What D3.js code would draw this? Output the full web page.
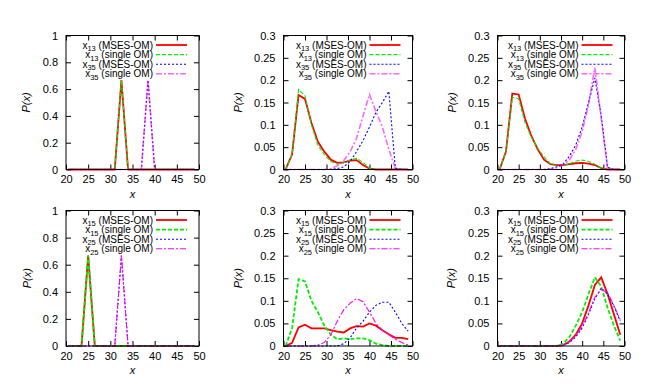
<!DOCTYPE html>
<html><head><meta charset="utf-8">
<script src="https://cdn.jsdelivr.net/npm/d3@7"></script>
<style>
body{margin:0;background:#fff}
svg{display:block}
text{font-family:"Liberation Sans",Arial,Helvetica,sans-serif;fill:#000}
</style>
</head><body>
<svg id="chart" width="647" height="389"></svg>
<script>
// ---------- data ----------
const xValues = [20.5, 22, 23.5, 25, 26.5, 28, 29.5, 31, 32.5, 34, 35.5, 37, 38.5, 40, 41.5, 43, 44.5, 46, 47.5, 49];
const xTicks = [20, 25, 30, 35, 40, 45, 50];
const xTickLabels = ["20", "25", "30", "35", "40", "45", "50"];
const yTicksBig = [0, 0.2, 0.4, 0.6, 0.8, 1];
const yTickLabelsBig = ["0", "0.2", "0.4", "0.6", "0.8", "1"];
const yTicksSmall = [0, 0.05, 0.1, 0.15, 0.2, 0.25, 0.3];
const yTickLabelsSmall = ["0", "0.05", "0.1", "0.15", "0.2", "0.25", "0.3"];

const seriesNames = ["(MSES-OM)", "(single OM)", "(MSES-OM)", "(single OM)"];
const subsTop = ["13", "13", "35", "35"];
const subsBottom = ["15", "15", "25", "25"];

// panel 1 (top left)
const p1_x13_mses   = [0,0,0,0,0,0,0,0,0.667,0,0,0,0,0,0,0,0,0,0,0];
const p1_x13_single = [0,0,0,0,0,0,0,0,0.667,0,0,0,0,0,0,0,0,0,0,0];
const p1_x35_mses   = [0,0,0,0,0,0,0,0,0,0,0,0,0.667,0,0,0,0,0,0,0];
const p1_x35_single = [0,0,0,0,0,0,0,0,0,0,0,0,0.667,0,0,0,0,0,0,0];
// panel 2 (top middle)
const p2_x13_mses   = [0,0.034,0.167,0.158,0.104,0.062,0.040,0.022,0.015,0.016,0.020,0.021,0.010,0.002,0,0,0,0,0,0];
const p2_x13_single = [0,0.035,0.179,0.165,0.100,0.055,0.033,0.018,0.012,0.015,0.022,0.025,0.016,0.003,0,0,0,0,0,0];
const p2_x35_mses   = [0,0,0,0,0,0,0,0,0.002,0.006,0.018,0.040,0.065,0.095,0.128,0.150,0.175,0.003,0,0];
const p2_x35_single = [0,0,0,0,0,0,0,0.002,0.008,0.020,0.040,0.070,0.120,0.168,0.130,0.095,0.045,0.003,0,0];
// panel 3 (top right)
const p3_x13_mses   = [0,0.040,0.170,0.168,0.114,0.075,0.045,0.022,0.012,0.010,0.010,0.012,0.014,0.015,0.013,0.010,0.003,0,0,0];
const p3_x13_single = [0,0.040,0.162,0.158,0.105,0.072,0.048,0.028,0.013,0.008,0.008,0.013,0.019,0.021,0.018,0.012,0.003,0,0,0];
const p3_x35_mses   = [0,0,0,0,0,0,0,0,0.002,0.006,0.012,0.030,0.055,0.095,0.150,0.205,0.120,0.005,0,0];
const p3_x35_single = [0,0,0,0,0,0,0,0,0.001,0.004,0.010,0.022,0.045,0.085,0.145,0.228,0.115,0.003,0,0];
// panel 4 (bottom left)
const p4_x15_mses   = [0,0,0,0.667,0,0,0,0,0,0,0,0,0,0,0,0,0,0,0,0];
const p4_x15_single = [0,0,0,0.667,0,0,0,0,0,0,0,0,0,0,0,0,0,0,0,0];
const p4_x25_mses   = [0,0,0,0,0,0,0,0,0.667,0,0,0,0,0,0,0,0,0,0,0];
const p4_x25_single = [0,0,0,0,0,0,0,0,0.667,0,0,0,0,0,0,0,0,0,0,0];
// panel 5 (bottom middle)
const p5_x15_mses   = [0,0.007,0.041,0.047,0.039,0.039,0.039,0.035,0.032,0.030,0.039,0.044,0.043,0.050,0.045,0.035,0.026,0.018,0.018,0.015];
const p5_x15_single = [0,0.040,0.148,0.143,0.100,0.075,0.045,0.025,0.015,0.017,0.015,0.017,0.017,0.013,0.005,0.002,0,0,0,0];
const p5_x25_mses   = [0,0,0,0,0,0,0,0,0,0.005,0.018,0.040,0.055,0.075,0.090,0.097,0.097,0.075,0.050,0.033];
const p5_x25_single = [0,0,0,0,0,0.002,0.008,0.025,0.055,0.080,0.095,0.105,0.098,0.075,0.050,0.035,0.025,0.015,0.008,0.002];
// panel 6 (bottom right)
const p6_x15_mses   = [0,0,0,0,0,0,0,0,0,0,0.002,0.010,0.025,0.050,0.090,0.135,0.152,0.115,0.070,0.025];
const p6_x15_single = [0,0,0,0,0,0,0,0,0,0.001,0.005,0.020,0.045,0.075,0.115,0.152,0.132,0.085,0.045,0.012];
const p6_x25_mses   = [0,0,0,0,0,0,0,0,0,0,0.001,0.008,0.020,0.040,0.070,0.105,0.128,0.115,0.088,0.055];
const p6_x25_single = [0,0,0,0,0,0,0,0,0,0,0.002,0.010,0.023,0.043,0.073,0.108,0.125,0.118,0.090,0.058];

// ---------- styles ----------
const colors = ["#ff0000", "#00ee00", "#0000ff", "#ff00ff"];
const dashes = [null, "4,2", "2,2", "6,2,2,2"];
const widthsTop = [1.8, 1.1, 1.1, 1.6];
const widthsBottom = [1.8, 1.8, 1.1, 1.1];
const opacTop = [1, 1, 1, 0.6];
const opacBottom = [1, 1, 1, 1];

const panels = [
  {left:66,  top:35.5,  w:133, h:134, ymax:1,   yt:yTicksBig,   yl:yTickLabelsBig,   series:[p1_x13_mses,p1_x13_single,p1_x35_mses,p1_x35_single], subs:subsTop, lw:widthsTop, op:opacTop, ylabX:26},
  {left:283.5,top:35.5, w:129, h:134, ymax:0.3, yt:yTicksSmall, yl:yTickLabelsSmall, series:[p2_x13_mses,p2_x13_single,p2_x35_mses,p2_x35_single], subs:subsTop, lw:widthsTop, op:opacTop, ylabX:238},
  {left:497.5,top:35.5, w:127, h:134, ymax:0.3, yt:yTicksSmall, yl:yTickLabelsSmall, series:[p3_x13_mses,p3_x13_single,p3_x35_mses,p3_x35_single], subs:subsTop, lw:widthsTop, op:opacTop, ylabX:452},
  {left:66,  top:210.5, w:133, h:135.5, ymax:1,   yt:yTicksBig,   yl:yTickLabelsBig,   series:[p4_x15_mses,p4_x15_single,p4_x25_mses,p4_x25_single], subs:subsBottom, lw:widthsBottom, op:opacBottom, ylabX:27},
  {left:283.5,top:210.5,w:129, h:135.5, ymax:0.3, yt:yTicksSmall, yl:yTickLabelsSmall, series:[p5_x15_mses,p5_x15_single,p5_x25_mses,p5_x25_single], subs:subsBottom, lw:widthsBottom, op:opacBottom, ylabX:238},
  {left:497.5,top:210.5,w:127, h:135.5, ymax:0.3, yt:yTicksSmall, yl:yTickLabelsSmall, series:[p6_x15_mses,p6_x15_single,p6_x25_mses,p6_x25_single], subs:subsBottom, lw:widthsBottom, op:opacBottom, ylabX:451}
];

const svg = d3.select("#chart");
const FS = 10;     // legend / titles
const TFS = 11;    // tick labels

panels.forEach(p => {
  const g = svg.append("g").attr("transform", `translate(${p.left},${p.top})`);
  const x = d3.scaleLinear().domain([20, 50]).range([0, p.w]);
  const y = d3.scaleLinear().domain([0, p.ymax]).range([p.h, 0]);

  const styleAxis = sel => {
    sel.selectAll("path.domain").remove();
    sel.selectAll("line").attr("stroke", "#000").attr("stroke-width", 1);
    sel.selectAll("text").attr("font-size", TFS).attr("font-family", "Liberation Sans, Arial, sans-serif").attr("fill", "#000");
  };
  g.append("g").attr("transform", `translate(0,${p.h})`)
    .call(d3.axisBottom(x).tickValues(xTicks).tickFormat((d, i) => xTickLabels[i]).tickSizeInner(-5).tickSizeOuter(0).tickPadding(6))
    .call(styleAxis);
  g.append("g")
    .call(d3.axisTop(x).tickValues(xTicks).tickFormat("").tickSizeInner(-5).tickSizeOuter(0))
    .call(styleAxis);
  g.append("g")
    .call(d3.axisLeft(y).tickValues(p.yt).tickFormat((d, i) => p.yl[i]).tickSizeInner(-5).tickSizeOuter(0).tickPadding(8))
    .call(styleAxis);
  g.append("g").attr("transform", `translate(${p.w},0)`)
    .call(d3.axisRight(y).tickValues(p.yt).tickFormat("").tickSizeInner(-5).tickSizeOuter(0))
    .call(styleAxis);

  const line = d3.line().x((d, i) => x(xValues[i])).y(d => y(d));
  [0, 1, 2, 3].forEach(k => {
    g.append("path").datum(p.series[k])
      .attr("d", line)
      .attr("fill", "none")
      .attr("stroke", colors[k])
      .attr("stroke-opacity", p.op[k])
      .attr("stroke-width", p.lw[k])
      .attr("stroke-dasharray", dashes[k])
      .attr("stroke-linejoin", "miter");
  });

  g.append("rect").attr("x", 0).attr("y", 0).attr("width", p.w).attr("height", p.h)
    .attr("fill", "none").attr("stroke", "#000").attr("stroke-width", 1);

  seriesNames.forEach((name, k) => {
    const ly = 9.5 + k * 9.6;
    const t = g.append("text").attr("x", p.w - 46).attr("y", ly + 3.5)
      .attr("text-anchor", "end").attr("font-size", FS);
    t.append("tspan").text("x");
    t.append("tspan").attr("dy", 2.5).attr("font-size", 7.5).text(p.subs[k]);
    t.append("tspan").attr("dy", -2.5).text(" " + name);
    g.append("line").attr("x1", p.w - 43).attr("x2", p.w - 12).attr("y1", ly).attr("y2", ly)
      .attr("stroke", colors[k]).attr("stroke-opacity", p.op[k])
      .attr("stroke-width", p.lw[k]).attr("stroke-dasharray", dashes[k]);
  });

  g.append("text").attr("x", p.w / 2).attr("y", p.h + 28).attr("text-anchor", "middle")
    .attr("font-size", TFS).attr("font-style", "italic").text("x");
  svg.append("text").attr("transform", `translate(${p.ylabX},${p.top + p.h / 2}) rotate(-90)`)
    .attr("text-anchor", "middle").attr("dy", "0.35em")
    .attr("font-size", TFS).attr("font-style", "italic").text("P(x)");
});
</script>
</body></html>
